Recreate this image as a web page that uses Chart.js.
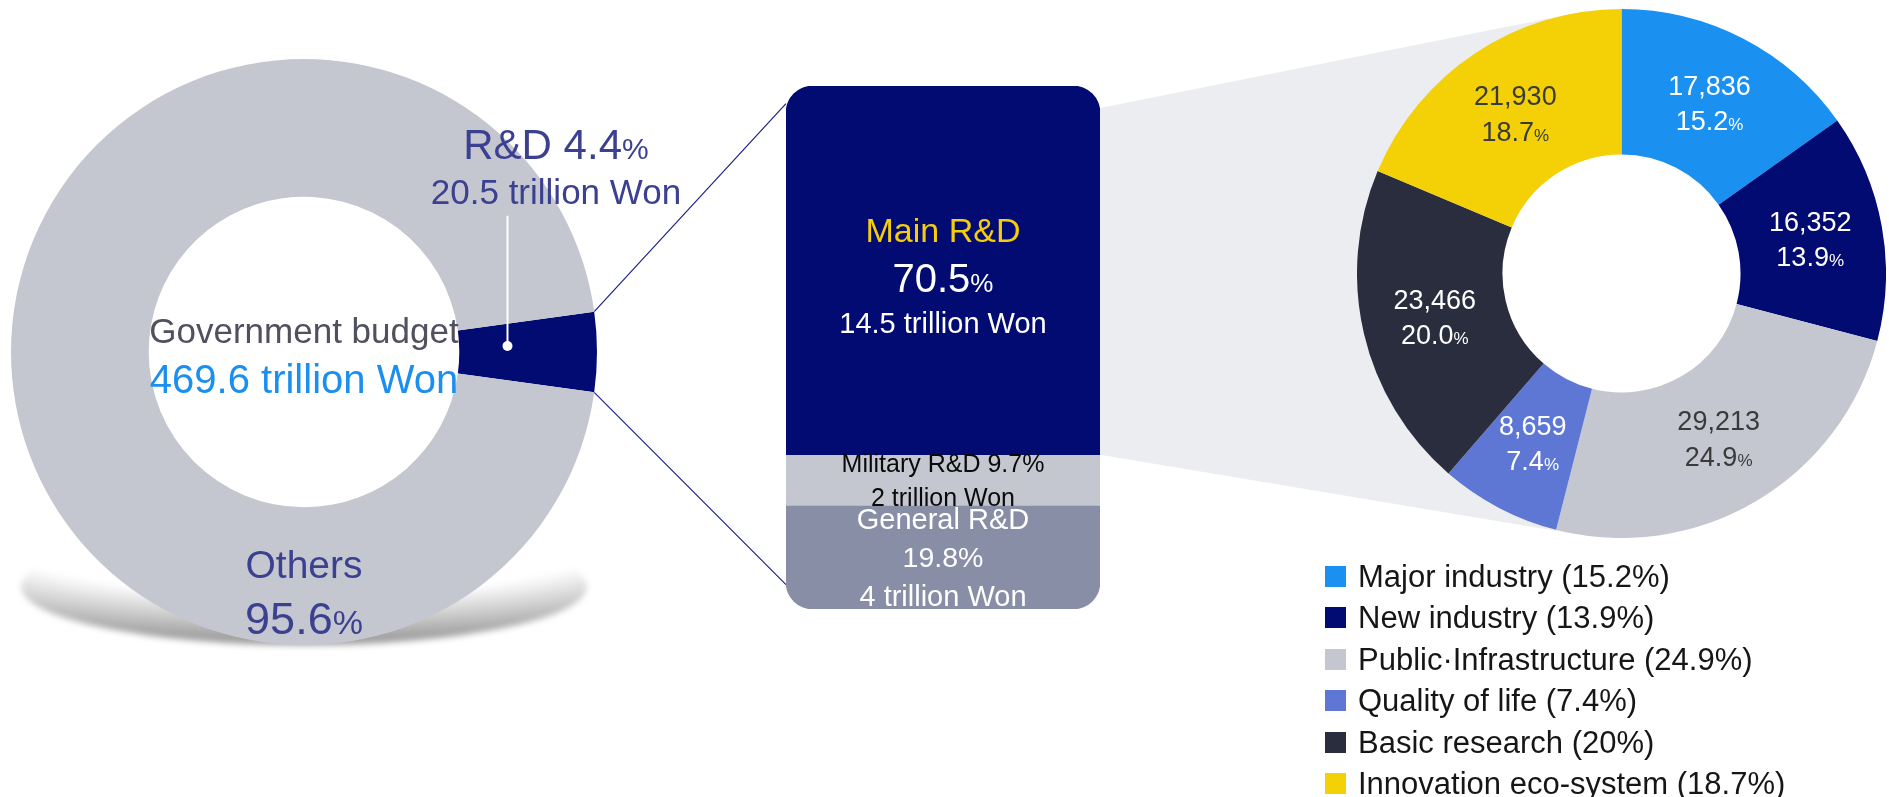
<!DOCTYPE html>
<html>
<head>
<meta charset="utf-8">
<title>Government R&amp;D budget</title>
<script src="https://cdn.jsdelivr.net/npm/chart.js@4.4.0/dist/chart.umd.min.js"></script>
<style>
  html, body { margin: 0; padding: 0; background: #fff; }
  #stage { position: relative; width: 1889px; height: 797px; overflow: hidden;
           font-family: "Liberation Sans", Arial, sans-serif; }
  #stage canvas { position: absolute; display: block; }
  #deco { z-index: 0; }
  #floorShadow { position: absolute; z-index: 1; border-radius: 50%;
                 background: radial-gradient(ellipse 100% 100% at 50% 0%, rgba(0,0,0,0) 58%, rgba(0,0,0,0.42) 100%);
                 filter: blur(3px); }
  #budget { z-index: 2; }
  #split { z-index: 2; }
  #fields { z-index: 2; }
  #ink { z-index: 3; pointer-events: none; }
  .lbl { position: absolute; z-index: 4; white-space: nowrap; line-height: 1;
         transform: translate(-50%, -50%); text-align: center; }
  .legend-row { position: absolute; z-index: 4; display: flex; align-items: center;
                font-size: 31px; color: #161616; white-space: nowrap; line-height: 1; }
  .legend-row i { display: inline-block; width: 21px; height: 21px; margin-right: 12px; }
</style>
</head>
<body>
<div id="stage">
  <canvas id="deco" width="1889" height="797" style="left:0;top:0"></canvas>
  <div id="floorShadow"></div>
  <canvas id="budget" width="586" height="586" style="left:11px;top:59px"></canvas>
  <canvas id="split" width="314" height="523" style="left:786px;top:86px"></canvas>
  <canvas id="fields" width="529" height="529" style="left:1357px;top:9px"></canvas>
  <canvas id="ink" width="1889" height="797" style="left:0;top:0"></canvas>
</div>
<script>
// ---- Government budget (trillion Won) ----
const budgetLabels = ['R&D', 'Others'];
const budgetShares = [4.4, 95.6];          // %
const budgetTotal = 469.6;                 // trillion Won
const rdTotal = 20.5;                      // trillion Won

// ---- R&D budget split ----
const rdLabels = ['Main R&D', 'Military R&D', 'General R&D'];
const rdShares = [70.5, 9.7, 19.8];        // %
const rdAmounts = [14.5, 2, 4];            // trillion Won

// ---- Main R&D by field (100 million Won) ----
const fieldLabels = ['Major industry', 'New industry', 'Public\u00B7Infrastructure',
                     'Quality of life', 'Basic research', 'Innovation eco-system'];
const fieldValues = [17836, 16352, 29213, 8659, 23466, 21930];
const fieldShares = [15.2, 13.9, 24.9, 7.4, 20.0, 18.7];   // %

// ---- palette ----
const NAVY = '#020b72';
const LIGHT_GREY = '#c4c7cf';
const SLATE = '#878ea6';
const LABEL_BLUE = '#3c4090';
const budgetColors = [NAVY, LIGHT_GREY];
const rdColors = [NAVY, LIGHT_GREY, SLATE];
const fieldColors = ['#1a90f1', NAVY, LIGHT_GREY, '#5e77d5', '#2a2d3e', '#f4d106'];
const fieldInk = ['#ffffff', '#ffffff', '#3a3a3a', '#ffffff', '#ffffff', '#3a3a3a'];

const quiet = { legend: { display: false }, tooltip: { enabled: false } };

// Left: whole government budget
const budgetChart = new Chart(document.getElementById('budget'), {
  type: 'doughnut',
  data: {
    labels: budgetLabels,
    datasets: [{ data: budgetShares, backgroundColor: budgetColors, borderWidth: 0, hoverOffset: 0 }]
  },
  options: {
    responsive: false, animation: false, events: [],
    cutout: '53%',
    rotation: 90 - budgetShares[0] * 3.6 / 2,   // R&D slice centred at 3 o'clock
    layout: { padding: 0 },
    plugins: quiet
  }
});

// Middle: R&D split as one stacked column with rounded outer corners
const CORNER = 27;
const splitChart = new Chart(document.getElementById('split'), {
  type: 'bar',
  data: {
    labels: ['R&D'],
    datasets: rdLabels.map((name, i) => ({
      label: name,
      data: [rdShares[i]],
      backgroundColor: rdColors[i],
      borderWidth: 0,
      borderSkipped: false,
      borderRadius: i === 0
        ? { topLeft: CORNER, topRight: CORNER, bottomLeft: 0, bottomRight: 0 }
        : i === rdLabels.length - 1
          ? { topLeft: 0, topRight: 0, bottomLeft: CORNER, bottomRight: CORNER }
          : 0,
      barPercentage: 1,
      categoryPercentage: 1
    }))
  },
  options: {
    responsive: false, animation: false, events: [],
    layout: { padding: 0 },
    scales: {
      x: { stacked: true, display: false },
      y: { stacked: true, display: false, reverse: true, min: 0,
           max: rdShares.reduce((a, b) => a + b, 0) }
    },
    plugins: quiet
  }
});

// Right: main R&D by field
const fieldsChart = new Chart(document.getElementById('fields'), {
  type: 'doughnut',
  data: {
    labels: fieldLabels,
    datasets: [{ data: fieldValues, backgroundColor: fieldColors, borderWidth: 0, hoverOffset: 0 }]
  },
  options: {
    responsive: false, animation: false, events: [],
    cutout: '45%', rotation: 0,
    layout: { padding: 0 },
    plugins: quiet
  }
});

// ---------- helpers ----------
const stage = document.getElementById('stage');
function onPage(chart, x, y) {
  return { x: chart.canvas.offsetLeft + x, y: chart.canvas.offsetTop + y };
}
function label(html, x, y, css) {
  const d = document.createElement('div');
  d.className = 'lbl';
  d.innerHTML = html;
  d.style.left = x + 'px';
  d.style.top = y + 'px';
  Object.assign(d.style, css || {});
  stage.appendChild(d);
  return d;
}
const fmt = n => n.toLocaleString('en-US');
const pctSmall = (v, size) => `${v}<span style="font-size:${size}px">%</span>`;

function tangentPoint(P, C, R, upper) {
  const dx = P.x - C.x, dy = P.y - C.y;
  const d = Math.hypot(dx, dy);
  const phi = Math.atan2(dy, dx);
  const a = Math.acos(R / d);
  const p1 = { x: C.x + R * Math.cos(phi + a), y: C.y + R * Math.sin(phi + a) };
  const p2 = { x: C.x + R * Math.cos(phi - a), y: C.y + R * Math.sin(phi - a) };
  if (upper) return p1.y < p2.y ? p1 : p2;
  return p1.y > p2.y ? p1 : p2;
}

// ---------- geometry from the charts ----------
const rdArc = budgetChart.getDatasetMeta(0).data[0];
const bc = onPage(budgetChart, rdArc.x, rdArc.y);
const bR = rdArc.outerRadius, br = rdArc.innerRadius;

const segs = rdLabels.map((_, i) => {
  const el = splitChart.getDatasetMeta(i).data[0];
  const p1 = onPage(splitChart, el.x - el.width / 2, Math.min(el.y, el.base));
  const p2 = onPage(splitChart, el.x + el.width / 2, Math.max(el.y, el.base));
  return { left: p1.x, right: p2.x, top: p1.y, bottom: p2.y,
           cx: (p1.x + p2.x) / 2, cy: (p1.y + p2.y) / 2 };
});
const box = { left: segs[0].left, right: segs[0].right, top: segs[0].top,
              bottom: segs[segs.length - 1].bottom };

const fArcs = fieldsChart.getDatasetMeta(0).data;
const fc = onPage(fieldsChart, fArcs[0].x, fArcs[0].y);
const fR = fArcs[0].outerRadius, fr = fArcs[0].innerRadius;

// ---------- background decoration: zoom wedge toward the field donut ----------
const dctx = document.getElementById('deco').getContext('2d');
const P1 = { x: box.right, y: box.top + 22 };
const P2 = { x: box.right, y: segs[0].bottom };
const T1 = tangentPoint(P1, fc, fR, true);
const T2 = tangentPoint(P2, fc, fR, false);
dctx.fillStyle = '#ecedf1';
dctx.beginPath();
dctx.moveTo(P1.x, P1.y);
dctx.lineTo(T1.x, T1.y);
dctx.lineTo(T2.x, T2.y);
dctx.lineTo(P2.x, P2.y);
dctx.closePath();
dctx.fill();
dctx.fillStyle = '#ffffff';
dctx.beginPath();
dctx.arc(fc.x, fc.y, fr, 0, Math.PI * 2);
dctx.fill();

// connector lines from the R&D slice to the column
const aStart = rdArc.startAngle, aEnd = rdArc.endAngle;
const cUp = { x: bc.x + bR * Math.cos(aStart), y: bc.y + bR * Math.sin(aStart) };
const cDn = { x: bc.x + bR * Math.cos(aEnd), y: bc.y + bR * Math.sin(aEnd) };
dctx.strokeStyle = '#1c2288';
dctx.lineWidth = 1.2;
dctx.beginPath();
dctx.moveTo(cUp.x, cUp.y); dctx.lineTo(box.left, box.top + CORNER * 0.65);
dctx.moveTo(cDn.x, cDn.y); dctx.lineTo(box.left, box.bottom - CORNER * 0.9);
dctx.stroke();

// floor shadow under the budget donut
const sh = document.getElementById('floorShadow');
Object.assign(sh.style, {
  left: (bc.x - bR * 0.965) + 'px', top: (bc.y + bR * 0.60) + 'px',
  width: (bR * 1.93) + 'px', height: (bR * 0.40) + 'px'
});

// ---------- leader for the R&D slice ----------
const ictx = document.getElementById('ink').getContext('2d');
const midA = (aStart + aEnd) / 2;
const dotR = br + (bR - br) * 0.35;
const dot = { x: bc.x + dotR * Math.cos(midA), y: bc.y + dotR * Math.sin(midA) - 6 };
ictx.strokeStyle = '#ffffff';
ictx.lineWidth = 2;
ictx.beginPath();
ictx.moveTo(dot.x, dot.y);
ictx.lineTo(dot.x, bc.y - bR * 0.465);
ictx.stroke();
ictx.fillStyle = '#ffffff';
ictx.beginPath();
ictx.arc(dot.x, dot.y, 5, 0, Math.PI * 2);
ictx.fill();

// ---------- budget donut labels ----------
label('Government budget', bc.x, bc.y - 22, { fontSize: '35px', color: '#50505e' });
label(`${budgetTotal} trillion Won`, bc.x, bc.y + 27, { fontSize: '40px', color: '#1b8ff0' });
label(`${budgetLabels[0]} ${pctSmall(budgetShares[0], 30)}`, bc.x + bR * 0.86, bc.y - bR * 0.707,
      { fontSize: '42px', color: LABEL_BLUE });
label(`${rdTotal} trillion Won`, bc.x + bR * 0.86, bc.y - bR * 0.55,
      { fontSize: '35px', color: LABEL_BLUE });
label(budgetLabels[1], bc.x, bc.y + bR * 0.724, { fontSize: '39px', color: LABEL_BLUE });
label(pctSmall(budgetShares[1], 34), bc.x, bc.y + bR * 0.908, { fontSize: '45px', color: LABEL_BLUE });

// ---------- R&D column labels ----------
{
  const s = segs[0], y = s.cy + 8;
  label(rdLabels[0], s.cx, y - 48, { fontSize: '34px', color: '#f5cd0b' });
  label(pctSmall(rdShares[0], 26), s.cx, y, { fontSize: '40px', color: '#ffffff' });
  label(`${rdAmounts[0]} trillion Won`, s.cx, y + 45, { fontSize: '29px', color: '#ffffff' });
}
{
  const s = segs[1];
  label(`${rdLabels[1]} ${rdShares[1]}%`, s.cx, s.cy - 17, { fontSize: '25px', color: '#0a0a0a' });
  label(`${rdAmounts[1]} trillion Won`, s.cx, s.cy + 17, { fontSize: '25px', color: '#0a0a0a' });
}
{
  const s = segs[2];
  label(rdLabels[2], s.cx, s.cy - 38.5, { fontSize: '29px', color: '#ffffff' });
  label(`${rdShares[2]}%`, s.cx, s.cy, { fontSize: '28.5px', color: '#ffffff' });
  label(`${rdAmounts[2]} trillion Won`, s.cx, s.cy + 38.5, { fontSize: '29px', color: '#ffffff' });
}

// ---------- field donut labels ----------
fArcs.forEach((arc, i) => {
  const p = arc.getCenterPoint();
  const q = onPage(fieldsChart, p.x, p.y);
  label(fmt(fieldValues[i]), q.x, q.y - 17.5, { fontSize: '27px', color: fieldInk[i] });
  label(pctSmall(fieldShares[i].toFixed(1), 17), q.x, q.y + 18, { fontSize: '27px', color: fieldInk[i] });
});

// ---------- legend ----------
fieldLabels.forEach((name, i) => {
  const row = document.createElement('div');
  row.className = 'legend-row';
  row.style.left = '1325px';
  row.style.top = (576 - 16 + i * 41.5) + 'px';
  row.style.height = '32px';
  row.innerHTML = `<i style="background:${fieldColors[i]}"></i><span>${name} (${fieldShares[i]}%)</span>`;
  stage.appendChild(row);
});
</script>
</body>
</html>
